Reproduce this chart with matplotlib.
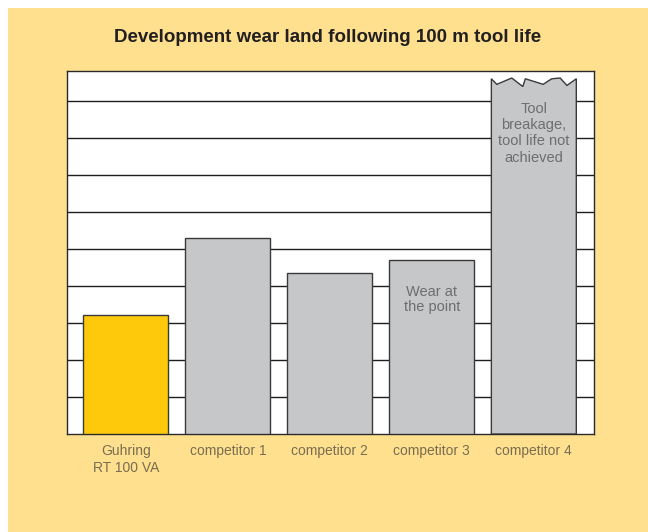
import matplotlib.pyplot as plt
from matplotlib.patches import Rectangle, Polygon

plt.rcParams['font.family'] = ['Liberation Sans', 'DejaVu Sans']

# Data
labels = ['Guhring\nRT 100 VA', 'competitor 1', 'competitor 2', 'competitor 3', 'competitor 4']
wear = [3.22, 5.30, 4.36, 4.71, 9.60]
colors = ['#FEC90B', '#C6C7C9', '#C6C7C9', '#C6C7C9', '#C6C7C9']
notes = ['', '', '', 'Wear at\nthe point', 'Tool\nbreakage,\ntool life not\nachieved']

# jagged top of the broken bar (fraction of width, offset)
jag_x = [0, 0.064, 0.24, 0.37, 0.40, 0.61, 0.71, 0.81, 0.89, 1.0]
jag_dy = [0, -0.15, 0.02, -0.21, 0, -0.15, 0, 0.02, -0.18, 0]

fig = plt.figure(figsize=(6.48, 5.32), dpi=100, facecolor='white')
fig.patches.append(Rectangle((8 / 648, 0), 1, (532 - 8) / 532, transform=fig.transFigure,
                             facecolor='#FEE08F', edgecolor='none', zorder=-10))

ax = fig.add_axes([67 / 648, (532 - 434) / 532, (594 - 67) / 648, (434 - 71) / 532])
ax.set_facecolor('white')

w = 0.833
x = list(range(len(labels)))
for i in x[:-1]:
    ax.bar(i, wear[i], width=w, color=colors[i], edgecolor='#3a3a3a', linewidth=1, zorder=3)

# broken bar with jagged top
c = x[-1]
pts = [(c - w / 2, 0)]
for fx, dy in zip(jag_x, jag_dy):
    pts.append((c - w / 2 + fx * w, wear[-1] + dy))
pts.append((c + w / 2, 0))
ax.add_patch(Polygon(pts, closed=True, facecolor=colors[-1], edgecolor='#3a3a3a',
                     linewidth=1, zorder=3))

for i in range(1, 10):
    ax.axhline(i, color='#1e1e1e', linewidth=1, zorder=1)

ax.set_xlim(-0.578, 4.59)
ax.set_ylim(0, 9.81)
ax.set_yticks([])
ax.set_xticks(x)
ax.set_xticklabels(labels, fontsize=10, color='#7a6d50', linespacing=1.2)
ax.tick_params(axis='x', length=0, pad=7.5)
for s in ax.spines.values():
    s.set_color('#2a2a2a')
    s.set_linewidth(1)

# notes inside bars
ax.text(3, 4.04, notes[3], ha='center', va='top', fontsize=10.5,
        color='#6d6e70', linespacing=1.15, zorder=4)
ax.text(4, 8.97, notes[4], ha='center', va='top', fontsize=10.5,
        color='#6d6e70', linespacing=1.2, zorder=4)

fig.text(0.5 * (116 + 540) / 648, 1 - 38 / 532, 'Development wear land following 100 m tool life',
         ha='center', va='center', fontsize=13.5, fontweight='bold', color='#231f20')

fig.savefig('out.png', dpi=100, facecolor=fig.get_facecolor())
